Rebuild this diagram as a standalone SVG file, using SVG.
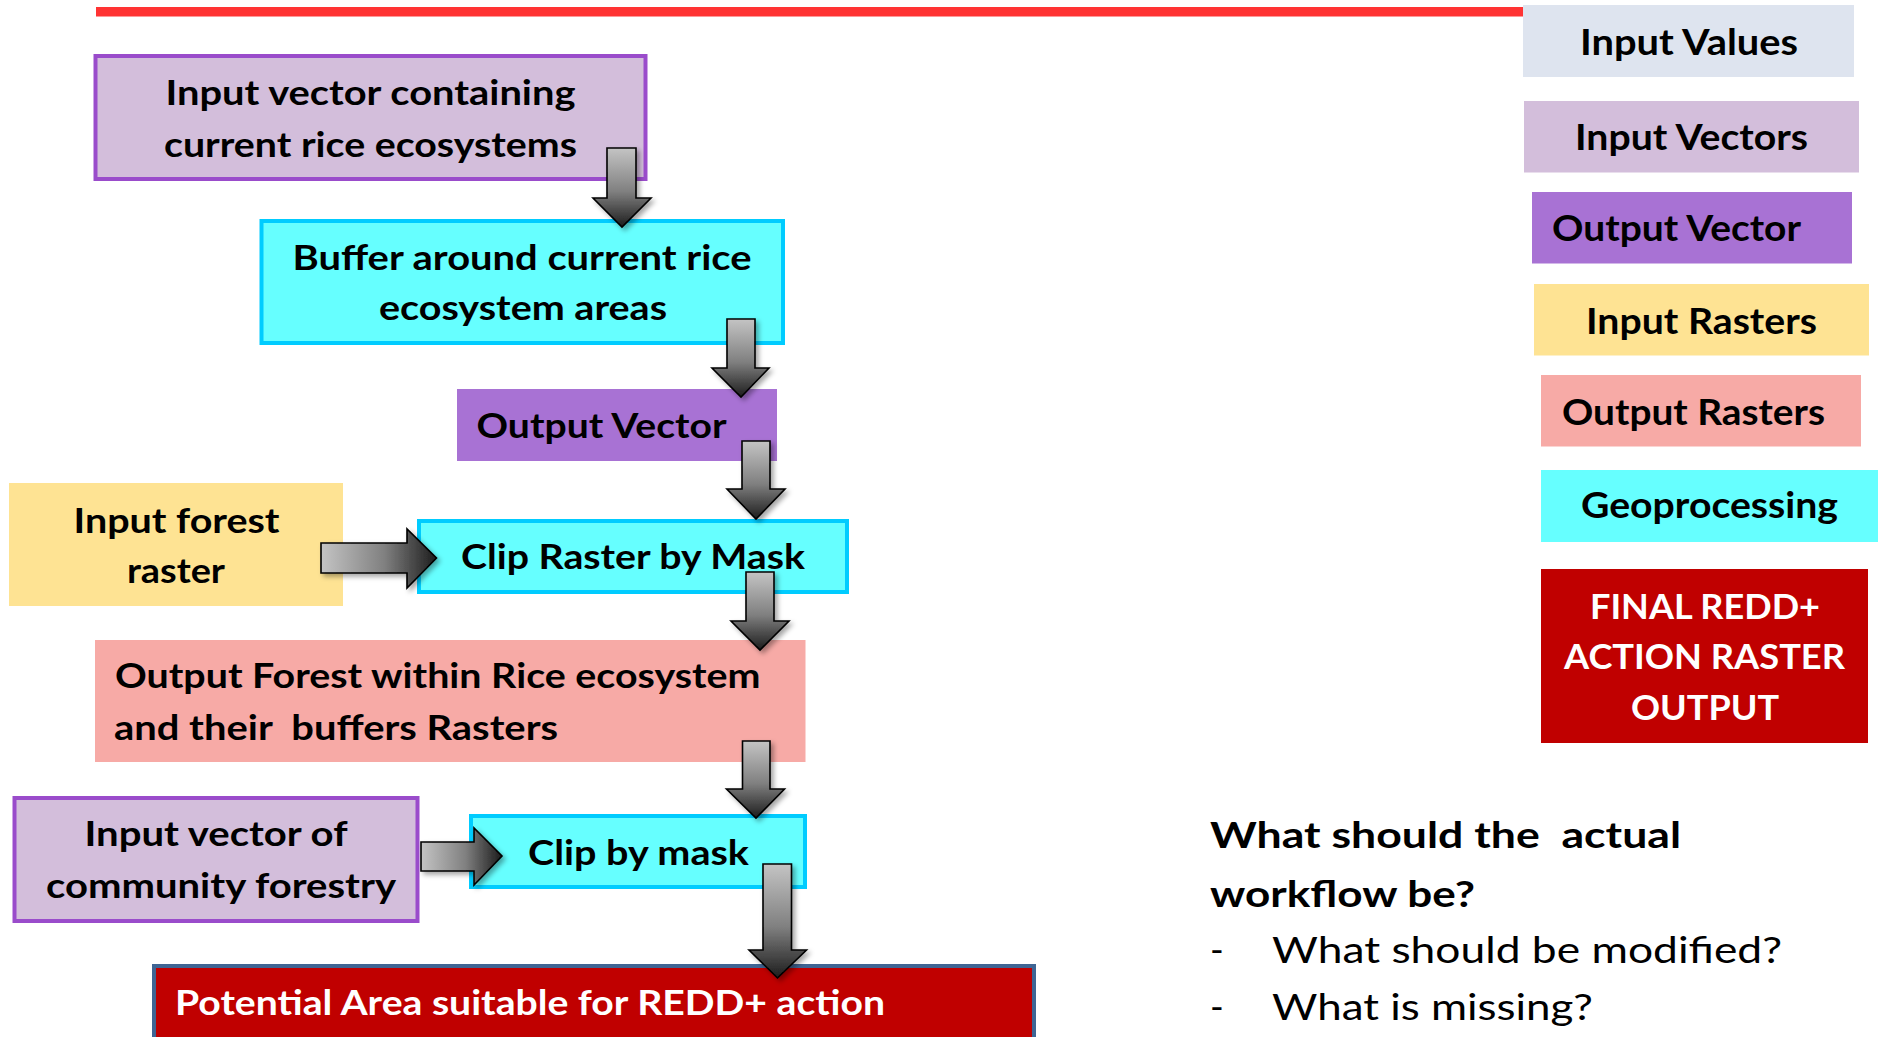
<svg xmlns="http://www.w3.org/2000/svg" width="1878" height="1037" viewBox="0 0 1878 1037">
<style>
.t{font-family:Lato,"Open Sans","Liberation Sans",sans-serif;font-weight:700;font-size:35px;fill:#000}
.c{text-anchor:middle}
.w{fill:#fff}
.q{font-size:37px}
.r{font-weight:400}
.lg{font-size:37px}
.pre{white-space:pre}
.vec{fill:#D3BEDB;stroke:#9A4CCB;stroke-width:4}
.geo{fill:#66FFFF;stroke:#00CCFF;stroke-width:4}
.arr{stroke:#000;stroke-width:1.6;stroke-linejoin:miter;filter:url(#sh)}
.dn{fill:url(#gv)}
.rt{fill:url(#gh)}
</style>
<defs>
<linearGradient id="gv" x1="0" y1="0" x2="0" y2="1">
<stop offset="0" stop-color="#C4C4C4"/>
<stop offset="0.55" stop-color="#808080"/>
<stop offset="1" stop-color="#1C1C1C"/>
</linearGradient>
<linearGradient id="gh" x1="0" y1="0" x2="1" y2="0">
<stop offset="0" stop-color="#C4C4C4"/>
<stop offset="0.55" stop-color="#808080"/>
<stop offset="1" stop-color="#1C1C1C"/>
</linearGradient>
<filter id="sh" x="-30%" y="-30%" width="160%" height="160%">
<feDropShadow dx="3" dy="3" stdDeviation="2.5" flood-color="#000" flood-opacity="0.35"/>
</filter>
</defs>
<rect width="1878" height="1037" fill="#fff"/>
<rect x="96" y="7" width="1427" height="9.5" fill="#FF3333"/>

<g id="node-input-vector-rice">
<rect class="vec" x="95.5" y="56" width="550" height="123"/>
<text class="t c" x="370.5" y="105" textLength="410" lengthAdjust="spacingAndGlyphs">Input vector containing</text>
<text class="t c" x="370.5" y="157" textLength="413" lengthAdjust="spacingAndGlyphs">current rice ecosystems</text>
</g>
<g id="node-buffer">
<rect class="geo" x="261.5" y="221" width="521.5" height="122"/>
<text class="t c" x="522" y="270" textLength="459" lengthAdjust="spacingAndGlyphs">Buffer around current rice</text>
<text class="t c" x="523" y="320" textLength="288" lengthAdjust="spacingAndGlyphs">ecosystem areas</text>
</g>
<g id="node-output-vector">
<rect x="457" y="389" width="320" height="72" fill="#A872D4"/>
<text class="t" x="476.5" y="438" textLength="250" lengthAdjust="spacingAndGlyphs">Output Vector</text>
</g>
<g id="node-input-forest-raster">
<rect x="9" y="483" width="334" height="123" fill="#FEE393"/>
<text class="t c" x="176.5" y="533" textLength="206" lengthAdjust="spacingAndGlyphs">Input forest</text>
<text class="t c" x="176" y="583" textLength="98" lengthAdjust="spacingAndGlyphs">raster</text>
</g>
<g id="node-clip-raster">
<rect class="geo" x="419" y="521" width="428" height="71"/>
<text class="t" x="461" y="569" textLength="344" lengthAdjust="spacingAndGlyphs">Clip Raster by Mask</text>
</g>
<g id="node-output-forest">
<rect x="95" y="640" width="710.5" height="122" fill="#F7AAA6"/>
<text class="t" x="115" y="688" textLength="645.5" lengthAdjust="spacingAndGlyphs">Output Forest within Rice ecosystem</text>
<text class="t pre" x="114" y="740" textLength="444" lengthAdjust="spacingAndGlyphs">and their  buffers Rasters</text>
</g>
<g id="node-input-community">
<rect class="vec" x="14.5" y="798" width="403" height="123"/>
<text class="t c" x="216" y="846" textLength="263" lengthAdjust="spacingAndGlyphs">Input vector of</text>
<text class="t c" x="221" y="898" textLength="350" lengthAdjust="spacingAndGlyphs">community forestry</text>
</g>
<g id="node-clip-mask">
<rect class="geo" x="471" y="816" width="334" height="71"/>
<text class="t" x="528" y="865" textLength="221" lengthAdjust="spacingAndGlyphs">Clip by mask</text>
</g>
<g id="node-potential-area">
<rect x="154" y="966" width="880" height="85" fill="#C00000" stroke="#3F6594" stroke-width="4"/>
<text class="t w" x="175" y="1015" textLength="710" lengthAdjust="spacingAndGlyphs">Potential Area suitable for REDD+ action</text>
</g>

<g id="legend-input-values">
<rect x="1523" y="5" width="331" height="72" fill="#DEE4EF"/>
<text class="t lg" x="1580" y="55" textLength="218" lengthAdjust="spacingAndGlyphs">Input Values</text>
</g>
<g id="legend-input-vectors">
<rect x="1524" y="101" width="335" height="71.5" fill="#D3BEDB"/>
<text class="t lg" x="1575" y="150" textLength="233" lengthAdjust="spacingAndGlyphs">Input Vectors</text>
</g>
<g id="legend-output-vector">
<rect x="1532" y="192" width="320" height="71.5" fill="#A872D4"/>
<text class="t lg" x="1552" y="241" textLength="249" lengthAdjust="spacingAndGlyphs">Output Vector</text>
</g>
<g id="legend-input-rasters">
<rect x="1534" y="284" width="335" height="71.5" fill="#FEE393"/>
<text class="t lg" x="1586" y="334" textLength="231" lengthAdjust="spacingAndGlyphs">Input Rasters</text>
</g>
<g id="legend-output-rasters">
<rect x="1541" y="375" width="320" height="71.5" fill="#F7AAA6"/>
<text class="t lg" x="1562" y="425" textLength="263" lengthAdjust="spacingAndGlyphs">Output Rasters</text>
</g>
<g id="legend-geoprocessing">
<rect x="1541" y="470" width="337" height="72" fill="#66FFFF"/>
<text class="t lg" x="1581" y="518" textLength="257" lengthAdjust="spacingAndGlyphs">Geoprocessing</text>
</g>
<g id="legend-final">
<rect x="1541" y="569" width="327" height="174" fill="#C00000"/>
<text class="t w c" x="1705" y="619" textLength="230" lengthAdjust="spacingAndGlyphs">FINAL REDD+</text>
<text class="t w c" x="1704.5" y="669" textLength="281" lengthAdjust="spacingAndGlyphs">ACTION RASTER</text>
<text class="t w c" x="1705" y="720" textLength="148" lengthAdjust="spacingAndGlyphs">OUTPUT</text>
</g>

<g id="question">
<text class="t q pre" x="1210" y="848" textLength="471" lengthAdjust="spacingAndGlyphs">What should the  actual</text>
<text class="t q" x="1210" y="907" textLength="265" lengthAdjust="spacingAndGlyphs">workflow be?</text>
<text class="t q r" x="1210" y="963">-</text>
<text class="t q r" x="1272" y="963" textLength="510" lengthAdjust="spacingAndGlyphs">What should be modified?</text>
<text class="t q r" x="1210" y="1020">-</text>
<text class="t q r" x="1272" y="1020" textLength="321" lengthAdjust="spacingAndGlyphs">What is missing?</text>
</g>

<g id="connectors">
<path class="arr dn" d="M607,148 H636 V198 H651 L622,227 L593,198 H607 Z"/>
<path class="arr dn" d="M727,319 H755 V368 H769 L741,397 L712,368 H727 Z"/>
<path class="arr dn" d="M742,441 H770 V489 H785 L756,519 L727,489 H742 Z"/>
<path class="arr dn" d="M746,572 H774 V621 H789 L760,650 L731,621 H746 Z"/>
<path class="arr dn" d="M742.5,741 H770 V789 H784.5 L756,818 L726.5,789 H742.5 Z"/>
<path class="arr dn" d="M763,864 H791.5 V950 H806.5 L777.5,978 L749,950 H763 Z"/>
<path class="arr rt" d="M321,543 H407 V529 L436.5,558 L407,588 V573 H321 Z"/>
<path class="arr rt" d="M421,842 H474 V828 L502,856 L474,885 V871 H421 Z"/>
</g>
</svg>
